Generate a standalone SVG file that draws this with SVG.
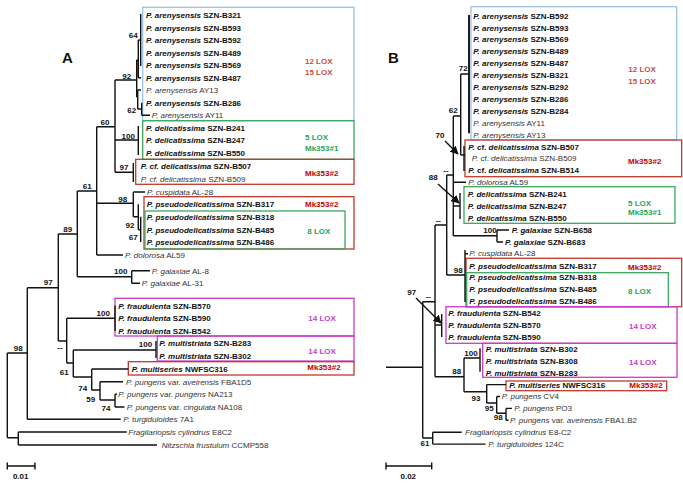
<svg xmlns="http://www.w3.org/2000/svg" width="683" height="485" viewBox="0 0 683 485">
<defs>
<style>
.t{font-family:"Liberation Sans",Arial,sans-serif;font-size:8px;fill:#111}
.r{fill:#333}
.b{font-weight:bold}
.i{font-style:italic}
.n{font-family:"Liberation Sans",Arial,sans-serif;font-size:8px;font-weight:bold;fill:#111;text-anchor:middle}
.lab{font-family:"Liberation Sans",Arial,sans-serif;font-size:8px;font-weight:bold}
.big{font-family:"Liberation Sans",Arial,sans-serif;font-size:15px;font-weight:bold;fill:#111}
.tree{fill:none;stroke:#111;stroke-width:1.4}
.box{fill:none;stroke-width:1.3}
.blue{stroke:#9dc3e6}
.green{stroke:#3aa95f}
.red{stroke:#c0392b}
.purp{stroke:#c83cc8}
.cl{fill:#c0504d}
.cg{fill:#1fa55a}
.cr{fill:#c00000}
.cp{fill:#c83cc8}
</style>
<marker id="ah" viewBox="0 0 10 10" refX="9" refY="5" markerWidth="6" markerHeight="6" orient="auto"><path d="M0,0L10,5L0,10z" fill="#111"/></marker>
</defs>
<rect width="683" height="485" fill="#fff"/>

<g id="panelA-boxes">
<rect class="box blue" x="142.7" y="7.3" width="211.3" height="113.4"/>
<rect class="box green" x="142.7" y="120.7" width="211.3" height="38.6"/>
<rect class="box red" x="135.7" y="159.3" width="218.3" height="25"/>
<rect class="box red" x="144" y="196.7" width="210" height="52.3"/>
<rect class="box green" x="145" y="211" width="200" height="38"/>
<rect class="box purp" x="115" y="298.3" width="239" height="37.7"/>
<rect class="box purp" x="157.3" y="336" width="196.7" height="25"/>
<rect class="box red" x="128.3" y="361.7" width="225.7" height="13.3"/>
</g>

<g id="panelB-boxes">
<rect class="box blue" x="471" y="6.7" width="205.7" height="133.3"/>
<rect class="box red" x="465" y="140" width="216.7" height="36.7"/>
<rect class="box green" x="464" y="186.7" width="211" height="36.6"/>
<rect class="box red" x="466" y="258.3" width="215.7" height="48.4"/>
<rect class="box green" x="466.7" y="272.7" width="201.6" height="34"/>
<rect class="box purp" x="446" y="306.7" width="231" height="36.6"/>
<rect class="box purp" x="482.7" y="343.3" width="194.3" height="34"/>
<rect class="box red" x="506" y="381" width="160.7" height="9.7"/>
</g>

<g id="connectors">
<path class="tree" d="M7.3,353V437.7M7.3,353H27.3M7.3,437.7H18.3M18.3,432V445M18.3,432H126.7M18.3,445H157
M27.3,287.7V419.3M27.3,419.3H120.7M27.3,287.7H58.3
M58.3,234V341M58.3,234H77.3M77.3,191V276.7M77.3,191H96.7M96.7,126.7V255M96.7,126.7H115M96.7,255H123
M115,80V172.3M115,80H136.7M115,140H138.3M115,172.3H133.3
M136.7,60V97M136.7,60H138.3M138.3,40V77.7M138.3,40H140.7M140.7,14V66M138.3,77.7H141M136.7,97H137.7M137.7,90V109M137.7,90H141M137.7,109H141.7M141.7,102.7V115.3M141.7,115.3H150
M138.3,126V155M133.3,163V182
M96.7,203.3H133.3M133.3,192V216.7M133.3,192H145M133.3,216.7H138.3M138.3,204.3V229.7M138.3,229.7H140.7M140.7,216.7V242
M77.3,276.7H131.7M131.7,270.7V283.3M131.7,270.7H150M131.7,283.3H140
M58.3,341H66.7M66.7,318.3V363M66.7,318.3H115M115,305.5V331
M66.7,363H73.3M73.3,350V377M73.3,350H156M156,341V358
M73.3,377H91.7M91.7,369V390M91.7,369H128.3M91.7,390H100M100,381.7V400M100,381.7H123M100,400H115M115,394.3V407M115,394.3H117M115,407H124.5"/>
<path class="tree" d="M7.3,466H35M7.3,462.5V469.5M35,462.5V469.5"/>

<path class="tree" d="M469,15V133.3" style="stroke-width:1.9"/>
<path class="tree" d="M453.3,116H460.7M460.7,74V155M460.7,74H469M460.7,155H465M464,146V171
M446.7,175H453.3M453.3,116V235.8M453.3,182.3H466M453.3,206H460M460,193V219M453.3,235.8H497M497,230V242M497,230H509M497,242H503
M435,225H446.7M446.7,175V275M446.7,275H465M465,250V302M465,253.7H468
M422.7,301.7H435M435,225V376.7M435,325H441.7M441.7,314V337
M435,376.7H464M464,358V391.7M464,358H480M480,348.3V371.7M464,391.7H486.7M486.7,384.6V403M486.7,384.6H506M486.7,403H496.7M496.7,396.5V413.3M496.7,396.5H500M496.7,413.3H506M506,408.4V420.3M506,408.4H512M506,420.3H508.5
M386,367.3H422.7M422.7,301.7V438M422.7,438H432.7M432.7,432.2V444.1M432.7,432.2H461.7M432.7,444.1H485.5"/>
<path class="tree" d="M386,466H431.7M386,462.5V469.5M431.7,462.5V469.5"/>
<path class="tree" d="M445,141L458,154" marker-end="url(#ah)"/>
<path class="tree" d="M438,184L459,203" marker-end="url(#ah)"/>
<path class="tree" d="M416,298L441,323" marker-end="url(#ah)"/>
</g>

<g id="panelA-labels">
<text class="big" x="62" y="63">A</text>
<text class="n" x="133.3" y="38">64</text>
<text class="n" x="126.7" y="79">92</text>
<text class="n" x="131.7" y="113">62</text>
<text class="n" x="105" y="124.7">60</text>
<text class="n" x="128.3" y="139">100</text>
<text class="n" x="124" y="170.3">97</text>
<text class="n" x="87.3" y="188.7">61</text>
<text class="n" x="122.7" y="202">98</text>
<text class="n" x="130" y="228">92</text>
<text class="n" x="133.3" y="240">67</text>
<text class="n" x="67.7" y="232">89</text>
<text class="n" x="120.7" y="273.7">100</text>
<text class="n" x="48.3" y="285.3">97</text>
<text class="n" x="103.3" y="316.3">100</text>
<text class="n" x="60" y="349.7">--</text>
<text class="n" x="145.5" y="347">100</text>
<text class="n" x="64.3" y="374.7">61</text>
<text class="n" x="82.7" y="391.3">74</text>
<text class="n" x="90.7" y="402">59</text>
<text class="n" x="106" y="411.3">74</text>
<text class="n" x="18.3" y="351.3">98</text>
<text class="n" x="20.7" y="479">0.01</text>
</g>

<g id="panelA-taxa">
<text class="t b" x="146" y="18"><tspan class="i">P. arenysensis</tspan> SZN-B321</text>
<text class="t b" x="146" y="30.5"><tspan class="i">P. arenysensis</tspan> SZN-B593</text>
<text class="t b" x="146" y="43"><tspan class="i">P. arenysensis</tspan> SZN-B592</text>
<text class="t b" x="146" y="55.7"><tspan class="i">P. arenysensis</tspan> SZN-B489</text>
<text class="t b" x="146" y="68"><tspan class="i">P. arenysensis</tspan> SZN-B569</text>
<text class="t b" x="146" y="80.7"><tspan class="i">P. arenysensis</tspan> SZN-B487</text>
<text class="t r" x="146" y="93"><tspan class="i">P. arenysensis</tspan> AY13</text>
<text class="t b" x="146" y="105.7"><tspan class="i">P. arenysensis</tspan> SZN-B286</text>
<text class="t r" x="151.7" y="118.3"><tspan class="i">P. arenysensis</tspan> AY11</text>
<text class="t b" x="146" y="131"><tspan class="i">P. delicatissima</tspan> SZN-B241</text>
<text class="t b" x="146" y="143.3"><tspan class="i">P. delicatissima</tspan> SZN-B247</text>
<text class="t b" x="146" y="156"><tspan class="i">P. delicatissima</tspan> SZN-B550</text>
<text class="t b" x="140.7" y="168.7"><tspan class="i">P. cf. delicatissima</tspan> SZN-B507</text>
<text class="t r" x="140.7" y="182"><tspan class="i">P. cf. delicatissima</tspan> SZN-B509</text>
<text class="t r" x="147" y="195"><tspan class="i">P. cuspidata</tspan> AL-28</text>
<text class="t b" x="146.7" y="207.3"><tspan class="i">P. pseudodelicatissima</tspan> SZN-B317</text>
<text class="t b" x="146.7" y="219.7"><tspan class="i">P. pseudodelicatissima</tspan> SZN-B318</text>
<text class="t b" x="146.7" y="232.7"><tspan class="i">P. pseudodelicatissima</tspan> SZN-B485</text>
<text class="t b" x="146.7" y="244.7"><tspan class="i">P. pseudodelicatissima</tspan> SZN-B486</text>
<text class="t r" x="125" y="258"><tspan class="i">P. dolorosa</tspan> AL59</text>
<text class="t r" x="151.7" y="273.7"><tspan class="i">P. galaxiae</tspan> AL-8</text>
<text class="t r" x="141.7" y="286.3"><tspan class="i">P. galaxiae</tspan> AL-31</text>
<text class="t b" x="118.3" y="308.5"><tspan class="i">P. fraudulenta</tspan> SZN-B570</text>
<text class="t b" x="118.3" y="321.3"><tspan class="i">P. fraudulenta</tspan> SZN-B590</text>
<text class="t b" x="118.3" y="334"><tspan class="i">P. fraudulenta</tspan> SZN-B542</text>
<text class="t b" x="159.3" y="346.3"><tspan class="i">P. multistriata</tspan> SZN-B283</text>
<text class="t b" x="159.3" y="359"><tspan class="i">P. multistriata</tspan> SZN-B302</text>
<text class="t b" x="131.7" y="372"><tspan class="i">P. multiseries</tspan> NWFSC316</text>
<text class="t r" x="126" y="384.7"><tspan class="i">P. pungens</tspan> var. <tspan class="i">aveirensis</tspan> FBA1D5</text>
<text class="t r" x="118.3" y="397.3"><tspan class="i">P. pungens</tspan> var. <tspan class="i">pungens</tspan> NA213</text>
<text class="t r" x="126.7" y="410"><tspan class="i">P. pungens</tspan> var. <tspan class="i">cingulata</tspan> NA108</text>
<text class="t r" x="123.3" y="422.3"><tspan class="i">P. turgiduloides</tspan> 7A1</text>
<text class="t r" x="128.3" y="435"><tspan class="i">Fragilariopsis cylindrus</tspan> E8C2</text>
<text class="t r" x="161.7" y="448"><tspan class="i">Nitzschia frustulum</tspan> CCMP558</text>
</g>

<g id="panelA-groups">
<text class="lab cl" x="305" y="64">12 LOX</text>
<text class="lab cl" x="305" y="75">15 LOX</text>
<text class="lab cg" x="305" y="139.7">5 LOX</text>
<text class="lab cg" x="305" y="151.3">Mk353#1</text>
<text class="lab cr" x="305" y="176.3">Mk353#2</text>
<text class="lab cr" x="305" y="207.3">Mk353#2</text>
<text class="lab cg" x="307.3" y="233.7">8 LOX</text>
<text class="lab cp" x="308.3" y="321.3">14 LOX</text>
<text class="lab cp" x="308.3" y="353.7">14 LOX</text>
<text class="lab cr" x="307.3" y="369.7">Mk353#2</text>
</g>

<g id="panelB-labels">
<text class="big" x="388" y="63">B</text>
<text class="n" x="463.3" y="71.3">72</text>
<text class="n" x="453.3" y="113">62</text>
<text class="n" x="440" y="138">70</text>
<text class="n" x="446" y="173">--</text>
<text class="n" x="433.3" y="179.7">88</text>
<text class="n" x="438.3" y="223">--</text>
<text class="n" x="490" y="233">100</text>
<text class="n" x="458.3" y="273">98</text>
<text class="n" x="411.7" y="294.7">97</text>
<text class="n" x="428.3" y="299">--</text>
<text class="n" x="471" y="355.5">100</text>
<text class="n" x="456.7" y="373.7">88</text>
<text class="n" x="476" y="401.3">93</text>
<text class="n" x="489.3" y="411.3">95</text>
<text class="n" x="498.3" y="419.7">98</text>
<text class="n" x="425" y="446.3">61</text>
<text class="n" x="408.3" y="479">0.02</text>
</g>

<g id="panelB-taxa">
<text class="t b" x="473.3" y="18.6"><tspan class="i">P. arenysensis</tspan> SZN-B592</text>
<text class="t b" x="473.3" y="30.5"><tspan class="i">P. arenysensis</tspan> SZN-B593</text>
<text class="t b" x="473.3" y="42.4"><tspan class="i">P. arenysensis</tspan> SZN-B569</text>
<text class="t b" x="473.3" y="54.3"><tspan class="i">P. arenysensis</tspan> SZN-B489</text>
<text class="t b" x="473.3" y="66.2"><tspan class="i">P. arenysensis</tspan> SZN-B487</text>
<text class="t b" x="473.3" y="78.1"><tspan class="i">P. arenysensis</tspan> SZN-B321</text>
<text class="t b" x="473.3" y="90"><tspan class="i">P. arenysensis</tspan> SZN-B292</text>
<text class="t b" x="473.3" y="101.9"><tspan class="i">P. arenysensis</tspan> SZN-B286</text>
<text class="t b" x="473.3" y="113.8"><tspan class="i">P. arenysensis</tspan> SZN-B284</text>
<text class="t r" x="473.3" y="125.7"><tspan class="i">P. arenysensis</tspan> AY11</text>
<text class="t r" x="473.3" y="137.6"><tspan class="i">P. arenysensis</tspan> AY13</text>
<text class="t b" x="468.3" y="149.5"><tspan class="i">P.</tspan> cf. <tspan class="i">delicatissima</tspan> SZN-B507</text>
<text class="t r" x="471.7" y="161.4"><tspan class="i">P.</tspan> cf. <tspan class="i">delicatissima</tspan> SZN-B509</text>
<text class="t b" x="468.3" y="173.3"><tspan class="i">P.</tspan> cf. <tspan class="i">delicatissima</tspan> SZN-B514</text>
<text class="t r" x="468.3" y="185.2"><tspan class="i">P. dolorosa</tspan> AL59</text>
<text class="t b" x="467.7" y="197.1"><tspan class="i">P. delicatissima</tspan> SZN-B241</text>
<text class="t b" x="467.7" y="209"><tspan class="i">P. delicatissima</tspan> SZN-B247</text>
<text class="t b" x="467.7" y="220.9"><tspan class="i">P. delicatissima</tspan> SZN-B550</text>
<text class="t b" x="511.7" y="232.8"><tspan class="i">P. galaxiae</tspan> SZN-B658</text>
<text class="t b" x="505" y="244.7"><tspan class="i">P. galaxiae</tspan> SZN-B683</text>
<text class="t r" x="469.3" y="255.5"><tspan class="i">P. cuspidata</tspan> AL-28</text>
<text class="t b" x="469.3" y="268.5"><tspan class="i">P. pseudodelicatissima</tspan> SZN-B317</text>
<text class="t b" x="469.3" y="280.4"><tspan class="i">P. pseudodelicatissima</tspan> SZN-B318</text>
<text class="t b" x="469.3" y="292.3"><tspan class="i">P. pseudodelicatissima</tspan> SZN-B485</text>
<text class="t b" x="469.3" y="304.2"><tspan class="i">P. pseudodelicatissima</tspan> SZN-B486</text>
<text class="t b" x="448.3" y="316.1"><tspan class="i">P. fraudulenta</tspan> SZN-B542</text>
<text class="t b" x="448.3" y="328"><tspan class="i">P. fraudulenta</tspan> SZN-B570</text>
<text class="t b" x="448.3" y="339.9"><tspan class="i">P. fraudulenta</tspan> SZN-B590</text>
<text class="t b" x="485.7" y="351.8"><tspan class="i">P. multistriata</tspan> SZN-B302</text>
<text class="t b" x="485.7" y="363.7"><tspan class="i">P. multistriata</tspan> SZN-B308</text>
<text class="t b" x="485.7" y="375.6"><tspan class="i">P. multistriata</tspan> SZN-B283</text>
<text class="t b" x="509.3" y="387.5"><tspan class="i">P. multiseries</tspan> NWFSC316</text>
<text class="t r" x="501.7" y="399.4"><tspan class="i">P. pungens</tspan> CV4</text>
<text class="t r" x="514.3" y="411.3"><tspan class="i">P. pungens</tspan> PO3</text>
<text class="t r" x="510" y="423.2"><tspan class="i">P. pungens</tspan> var. <tspan class="i">aveirensis</tspan> FBA1.B2</text>
<text class="t r" x="465" y="435.1"><tspan class="i">Fragilariopsis cylindrus</tspan> E8-C2</text>
<text class="t r" x="488.3" y="447"><tspan class="i">P. turgiduloides</tspan> 124C</text>
</g>

<g id="panelB-groups">
<text class="lab cl" x="628.3" y="72">12 LOX</text>
<text class="lab cl" x="628.3" y="83.7">15 LOX</text>
<text class="lab cr" x="628" y="163.7">Mk353#2</text>
<text class="lab cg" x="628" y="205.7">5 LOX</text>
<text class="lab cg" x="628" y="215.3">Mk353#1</text>
<text class="lab cr" x="628" y="269.7">Mk353#2</text>
<text class="lab cg" x="628" y="294">8 LOX</text>
<text class="lab cp" x="629" y="328.7">14 LOX</text>
<text class="lab cp" x="629" y="364.7">14 LOX</text>
<text class="lab cr" x="629.3" y="388">Mk353#2</text>
</g>
</svg>
